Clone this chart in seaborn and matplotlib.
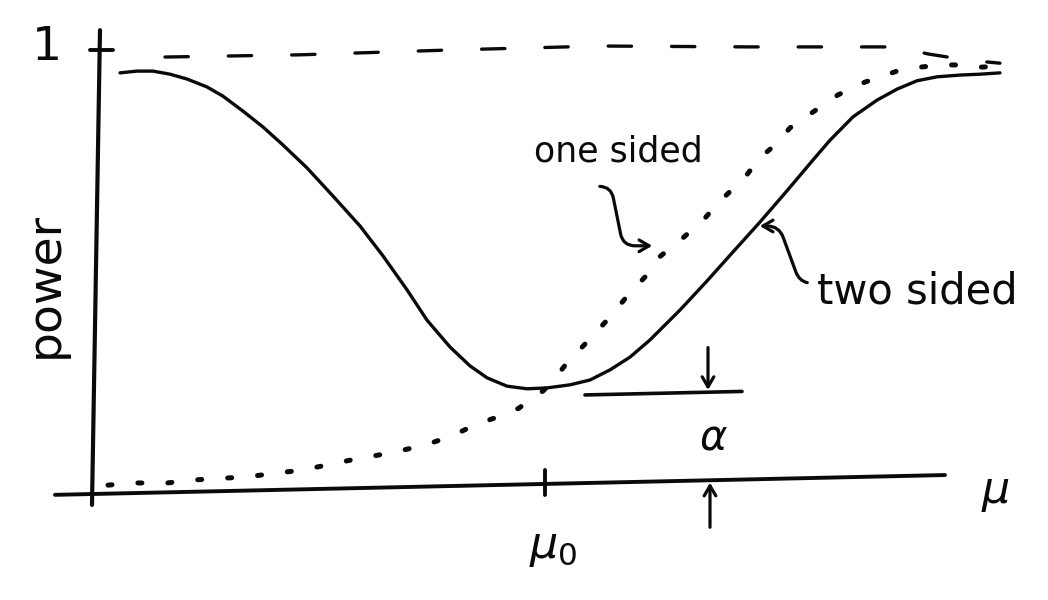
import matplotlib
matplotlib.use("Agg")
import matplotlib.pyplot as plt
import seaborn as sns

# sketch of power curves
sns.set_theme(style="white")
plt.rcParams['font.family'] = ['DejaVu Sans']

mu_two = [-4.25, -4.08, -3.92, -3.75, -3.58, -3.38, -3.22, -3.02, -2.82, -2.62,
          -2.38, -2.12, -1.85, -1.62, -1.38, -1.18, -0.95, -0.75, -0.58, -0.38,
          -0.18, 0.02, 0.25, 0.45, 0.65, 0.85, 1.05, 1.35, 1.62, 1.88,
          2.15, 2.42, 2.68, 2.85, 3.08, 3.32, 3.52, 3.72, 3.92, 4.15,
          4.35, 4.55]
power_two = [0.948, 0.952, 0.952, 0.945, 0.934, 0.916, 0.895, 0.861, 0.825, 0.784,
             0.732, 0.668, 0.600, 0.532, 0.455, 0.386, 0.325, 0.282, 0.255, 0.236,
             0.230, 0.232, 0.239, 0.250, 0.273, 0.302, 0.341, 0.409, 0.475, 0.541,
             0.609, 0.680, 0.750, 0.795, 0.848, 0.886, 0.911, 0.930, 0.939, 0.943,
             0.945, 0.948]

mu_one = [-4.37, -4.13, -3.78, -3.50, -3.20, -2.97, -2.67, -2.43, -2.22, -1.90,
          -1.55, -1.20, -0.93, -0.68, -0.42, -0.26, -0.12, -0.02, 0.07, 0.22,
          0.41, 0.65, 0.83, 1.00, 1.13, 1.38, 1.60, 1.73, 2.00, 2.15,
          2.30, 2.45, 2.68, 2.93, 3.20, 3.52, 3.75, 3.97, 4.20, 4.37, 4.55]
power_one = [0.011, 0.016, 0.016, 0.023, 0.027, 0.030, 0.039, 0.045, 0.055, 0.070,
             0.084, 0.102, 0.123, 0.150, 0.170, 0.186, 0.211, 0.225, 0.245, 0.289,
             0.334, 0.393, 0.443, 0.484, 0.527, 0.573, 0.618, 0.652, 0.711, 0.755,
             0.784, 0.823, 0.859, 0.898, 0.927, 0.952, 0.961, 0.966, 0.966, 0.961, 0.964]

mu_limit = [-3.80, -2.45, -0.95, 0.55, 2.05, 2.98, 3.53, 3.83, 4.22, 4.55]
power_limit = [0.984, 0.989, 1.000, 1.009, 1.007, 1.007, 1.007, 0.991, 0.977, 0.970]

mu0 = 0.0
alpha_level = 0.216

fig = plt.figure(figsize=(10.48, 6), dpi=100)
fig.patch.set_facecolor('white')
ax = fig.add_axes([0, 0, 1, 1])
ax.set_xlim(-5.45, 5.03)
ax.set_ylim(-0.25, 1.1136)
ax.axis('off')

ink = '#0a0a0a'

# axes drawn by hand: slightly tilted
ax.plot([-4.45, -4.53], [1.045, -0.034], color=ink, lw=3.0, solid_capstyle='round')
ax.plot([-4.90, 4.00], [-0.011, 0.034], color=ink, lw=2.8, solid_capstyle='round')
ax.plot([-4.55, -4.32], [1.0, 1.0], color=ink, lw=2.8, solid_capstyle='round')
ax.plot([mu0, mu0], [0.045, -0.011], color=ink, lw=2.8, solid_capstyle='round')

# curves
sns.lineplot(x=mu_limit, y=power_limit, ax=ax, color=ink, lw=2.4,
             linestyle=(0, (7, 12)), dash_capstyle='round')
sns.lineplot(x=mu_one, y=power_one, ax=ax, color=ink, lw=3.6,
             linestyle=(0, (0.8, 5.2)), dash_capstyle='round')
sns.lineplot(x=mu_two, y=power_two, ax=ax, color=ink, lw=2.4,
             solid_capstyle='round', solid_joinstyle='round')

# alpha bracket
ax.plot([0.40, 1.97], [alpha_level, alpha_level + 0.008], color=ink, lw=2.6,
        solid_capstyle='round')
arrow_kw = dict(arrowstyle='->,head_length=0.6,head_width=0.35', color=ink, lw=2.3)
ax.annotate('', xy=(1.63, alpha_level + 0.005), xytext=(1.63, 0.33), arrowprops=arrow_kw)
ax.annotate('', xy=(1.65, 0.023), xytext=(1.65, -0.091), arrowprops=arrow_kw)

# labels
ax.text(-4.98, 1.005, '1', fontsize=34, ha='center', va='center', color=ink)
ax.text(-5.0, 0.465, 'power', fontsize=34, rotation=90, ha='center', va='center', color=ink)
ax.text(4.50, -0.005, r'$\mu$', fontsize=32, ha='center', va='center', color=ink)
ax.text(0.08, -0.13, r'$\mu_0$', fontsize=32, ha='center', va='center', color=ink)
ax.text(1.68, 0.12, r'$\alpha$', fontsize=30, ha='center', va='center', color=ink)
ax.text(0.73, 0.77, 'one sided', fontsize=25, ha='center', va='center', color=ink)
ax.text(2.72, 0.45, 'two sided', fontsize=30, ha='left', va='center', color=ink)

ax.annotate('', xy=(1.10, 0.555), xytext=(0.52, 0.69),
            arrowprops=dict(arrowstyle='->,head_length=0.6,head_width=0.35', color=ink, lw=2.3,
                            connectionstyle='arc,angleA=0,angleB=180,armA=14,armB=32,rad=12'))
ax.annotate('', xy=(2.12, 0.60), xytext=(2.65, 0.47),
            arrowprops=dict(arrowstyle='->,head_length=0.6,head_width=0.35', color=ink, lw=2.3,
                            connectionstyle='arc,angleA=180,angleB=0,armA=10,armB=22,rad=12'))

fig.savefig('out.png', dpi=100, facecolor='white')
